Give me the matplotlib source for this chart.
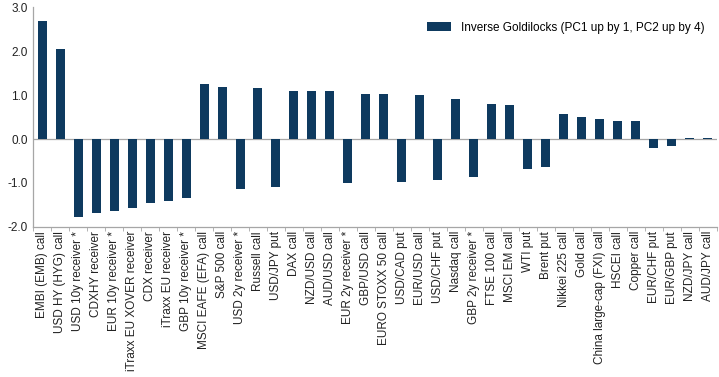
import matplotlib
matplotlib.use("Agg")
import matplotlib.pyplot as plt
import numpy as np

categories = [
    "EMBI (EMB) call", "USD HY (HYG) call", "USD 10y receiver *", "CDXHY receiver",
    "EUR 10y receiver *", "iTraxx EU XOVER receiver", "CDX receiver", "iTraxx EU receiver",
    "GBP 10y receiver *", "MSCI EAFE (EFA) call", "S&P 500 call", "USD 2y receiver *",
    "Russell call", "USD/JPY put", "DAX call", "NZD/USD call", "AUD/USD call",
    "EUR 2y receiver *", "GBP/USD call", "EURO STOXX 50 call", "USD/CAD put",
    "EUR/USD call", "USD/CHF put", "Nasdaq call", "GBP 2y receiver *", "FTSE 100 call",
    "MSCI EM call", "WTI put", "Brent put", "Nikkei 225 call", "Gold call",
    "China large-cap (FXI) call", "HSCEI call", "Copper call", "EUR/CHF put",
    "EUR/GBP put", "NZD/JPY call", "AUD/JPY call",
]
values = [
    2.68, 2.04, -1.78, -1.69, -1.64, -1.57, -1.46, -1.41, -1.35, 1.26, 1.19, -1.14,
    1.15, -1.09, 1.10, 1.10, 1.10, -1.00, 1.03, 1.03, -0.98, 1.01, -0.93, 0.92,
    -0.86, 0.80, 0.78, -0.68, -0.63, 0.57, 0.50, 0.46, 0.41, 0.41, -0.20, -0.15,
    0.02, 0.02,
]
series_name = "Inverse Goldilocks (PC1 up by 1, PC2 up by 4)"
yticks = [-2.0, -1.0, 0.0, 1.0, 2.0, 3.0]

plt.rcParams['font.family'] = ['Liberation Sans', 'DejaVu Sans']
fig = plt.figure(figsize=(7.19, 3.77), dpi=100)
ax = fig.add_axes([0.046, 0.398, 0.951, 0.583])

x = np.arange(len(categories))
ax.bar(x, values, width=0.5, color="#0E3A5F", label=series_name, zorder=3)
ax.axhline(0, color="#A6A6A6", lw=0.9, zorder=2)

ax.set_xlim(-0.5, len(categories) - 0.5)
ax.set_ylim(-2.0, 3.0)
ax.set_yticks(yticks)
ax.set_yticklabels([f"{v:.1f}" for v in yticks], fontsize=8.5, color="#222222")
ax.set_xticks(x)
ax.set_xticklabels(categories, rotation=90, fontsize=8.5, color="#222222")
ax.tick_params(axis='x', which='major', length=0, pad=3)
ax.set_xticks(np.arange(len(categories) + 1) - 0.5, minor=True)
ax.tick_params(axis='x', which='minor', length=3, color="#A6A6A6")
ax.tick_params(axis='y', length=0, pad=4)

for s in ["top", "right"]:
    ax.spines[s].set_visible(False)
for s in ["left", "bottom"]:
    ax.spines[s].set_color("#A6A6A6")
    ax.spines[s].set_linewidth(0.9)

leg = ax.legend(loc="upper right", frameon=False, fontsize=8.5,
                handlelength=2.05, handleheight=0.7, handletextpad=0.85,
                borderaxespad=0.65, bbox_to_anchor=(1.0, 0.99))

fig.savefig("out.png", dpi=100)
